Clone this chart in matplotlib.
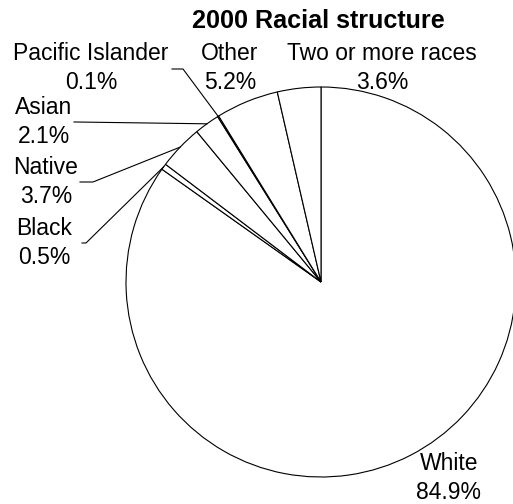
import numpy as np
import matplotlib.pyplot as plt

plt.rcParams['font.family'] = ['Liberation Sans', 'DejaVu Sans']

# Datos (orden horario desde arriba)
races = ['White', 'Black', 'Native', 'Asian', 'Pacific Islander', 'Other', 'Two or more races']
shares = [84.9, 0.5, 3.7, 2.1, 0.1, 5.2, 3.6]

# Geometria en pixeles de la imagen
W, H = 513, 504
CX, CY, R = 321, 282, 195


def px(x, y):
    # pixel -> coordenadas de datos (radio del pastel = 1)
    return (x - CX) / R, (CY - y) / R


# centro de cada etiqueta y codo de la linea guia
label_pos = {
    'White': (449, 478),
    'Black': (44, 243),
    'Native': (46, 182),
    'Asian': (44, 122),
    'Pacific Islander': (91, 68),
    'Other': (230, 68),
    'Two or more races': (382, 68),
}
leaders = {
    'Black': [(82, 243), (86, 243)],
    'Native': [(80, 182), (93, 182)],
    'Asian': [(74, 122), (76, 122)],
    'Pacific Islander': [(172, 69), (183, 69)],
}

fig = plt.figure(figsize=(W / 100, H / 100), dpi=100)
ax = fig.add_axes([0, 0, 1, 1])

wedges, _ = ax.pie(shares, startangle=90, counterclock=False, radius=1,
                   colors=['white'] * len(shares),
                   wedgeprops=dict(edgecolor='black', linewidth=0.8))

ax.set_aspect('auto')
ax.set_xlim(px(0, 0)[0], px(W, 0)[0])
ax.set_ylim(px(0, H)[1], px(0, 0)[1])
ax.axis('off')

for w, name, val in zip(wedges, races, shares):
    lx, ly = px(*label_pos[name])
    ax.text(lx, ly, f'{name}\n{val:.1f}%', ha='center', va='center',
            multialignment='center', fontsize=16.5, linespacing=1.3)
    if name in leaders:
        mid = np.deg2rad((w.theta1 + w.theta2) / 2)
        pts = [px(*p) for p in leaders[name]] + [(np.cos(mid), np.sin(mid))]
        xs, ys = zip(*pts)
        ax.plot(xs, ys, color='black', linewidth=0.8)

tx, ty = px(318, 21)
ax.text(tx, ty, '2000 Racial structure', ha='center', va='center',
        fontsize=18.1, fontweight='bold')

fig.savefig('out.png', dpi=100)
